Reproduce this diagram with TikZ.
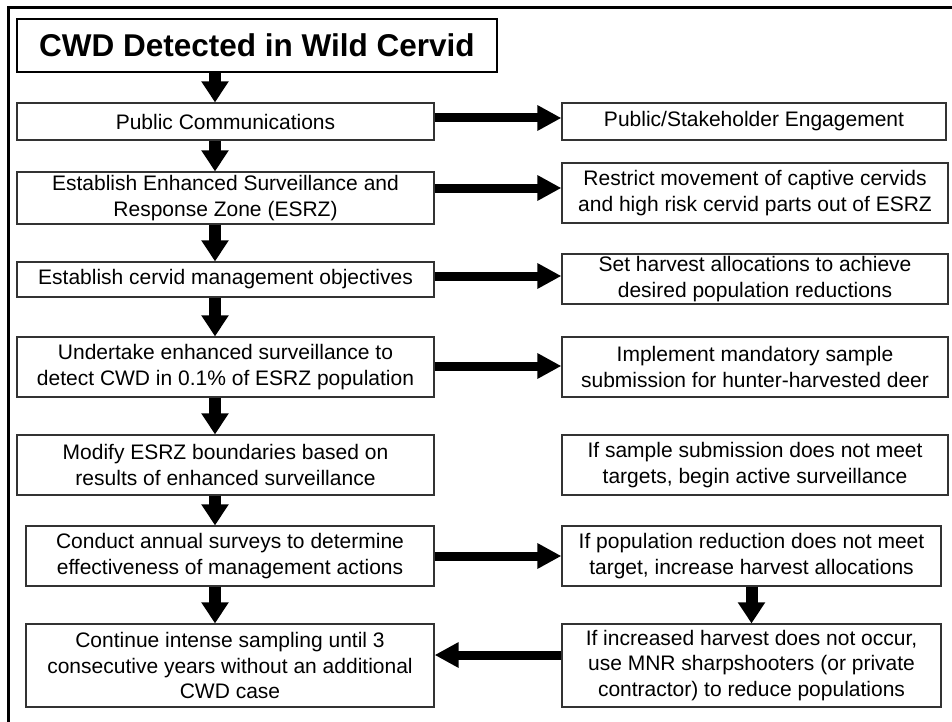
\documentclass[tikz,border=0pt]{standalone}
\usepackage{fontspec}
\setmainfont{Liberation Sans}
\usetikzlibrary{arrows.meta}
\tikzset{
  box/.style={draw=black!80, line width=1.2pt, fill=white, inner sep=0pt, align=center,
    font=\fontsize{21}{25.5}\selectfont},
  titlebox/.style={draw=black, line width=1.3pt, fill=white, inner sep=0pt, align=center,
    font=\fontsize{31.5}{36}\selectfont\bfseries},
  varr/.style={line width=12pt, -{Triangle[length=21pt,width=26pt]}},
  harr/.style={line width=9pt, -{Triangle[length=24pt,width=24pt]}}
}
\begin{document}
\begin{tikzpicture}[x=1pt,y=-1pt]
\useasboundingbox[fill=white] (0,0) rectangle (952,722);
\draw[line width=3pt] (8,722) -- (8,8) -- (952,8);
% left column
\node[titlebox, minimum width=480pt, minimum height=53pt] (title) at (257,45.5) {CWD Detected in Wild Cervid};
\node[box, minimum width=417pt, minimum height=37pt] (pc) at (225.5,121.5) {Public Communications};
\node[box, minimum width=417pt, minimum height=52pt] (esrz) at (225.5,198) {Establish Enhanced Surveillance and\\Response Zone (ESRZ)};
\node[box, minimum width=417pt, minimum height=35pt] (obj) at (225.5,279.5) {Establish cervid management objectives};
\node[box, minimum width=417pt, minimum height=60pt] (und) at (225.5,367) {Undertake enhanced surveillance to\\detect CWD in 0.1\% of ESRZ population};
\node[box, minimum width=417pt, minimum height=60pt] (mod) at (225.5,465) {Modify ESRZ boundaries based on\\results of enhanced surveillance};
\node[box, minimum width=408pt, minimum height=60pt] (con) at (230,556) {Conduct annual surveys to determine\\effectiveness of management actions};
\node[box, minimum width=408pt, minimum height=83pt] (cont) at (230,665.5) {Continue intense sampling until 3\\consecutive years without an additional\\CWD case};
% right column
\node[box, minimum width=384pt, minimum height=37pt] (pse) at (754,121.5) {Public/Stakeholder Engagement};
\node[box, minimum width=386pt, minimum height=60pt] (res) at (755,193) {Restrict movement of captive cervids\\and high risk cervid parts out of ESRZ};
\node[box, minimum width=386pt, minimum height=50pt] (har) at (755,279) {Set harvest allocations to achieve\\desired population reductions};
\node[box, minimum width=386pt, minimum height=60pt] (imp) at (755,367) {Implement mandatory sample\\submission for hunter-harvested deer};
\node[box, minimum width=386pt, minimum height=60pt] (sam) at (755,465) {If sample submission does not meet\\targets, begin active surveillance};
\node[box, minimum width=379pt, minimum height=60pt] (pop) at (751.5,556) {If population reduction does not meet\\target, increase harvest allocations};
\node[box, minimum width=379pt, minimum height=83pt] (inc) at (751.5,665.5) {If increased harvest does not occur,\\use MNR sharpshooters (or private\\contractor) to reduce populations};
% helper coordinates
\coordinate (vx) at (215,0);
\coordinate (h1) at (0,118);
\coordinate (h2) at (0,188);
\coordinate (h3) at (0,276);
\coordinate (h4) at (0,366);
\coordinate (h5) at (0,556);
\coordinate (h6) at (0,655);
% vertical arrows
\draw[varr] (title.south -| vx) -- (pc.north -| vx);
\draw[varr] (pc.south -| vx) -- (esrz.north -| vx);
\draw[varr] (esrz.south -| vx) -- (obj.north -| vx);
\draw[varr] (obj.south -| vx) -- (und.north -| vx);
\draw[varr] (und.south -| vx) -- (mod.north -| vx);
\draw[varr] (mod.south -| vx) -- (con.north -| vx);
\draw[varr] (con.south -| vx) -- (cont.north -| vx);
\draw[varr] (pop.south) -- (inc.north);
% horizontal arrows
\draw[harr] (pc.east |- h1) -- (pse.west |- h1);
\draw[harr] (esrz.east |- h2) -- (res.west |- h2);
\draw[harr] (obj.east |- h3) -- (har.west |- h3);
\draw[harr] (und.east |- h4) -- (imp.west |- h4);
\draw[harr] (con.east |- h5) -- (pop.west |- h5);
\draw[harr] (inc.west |- h6) -- (cont.east |- h6);
\end{tikzpicture}
\end{document}
